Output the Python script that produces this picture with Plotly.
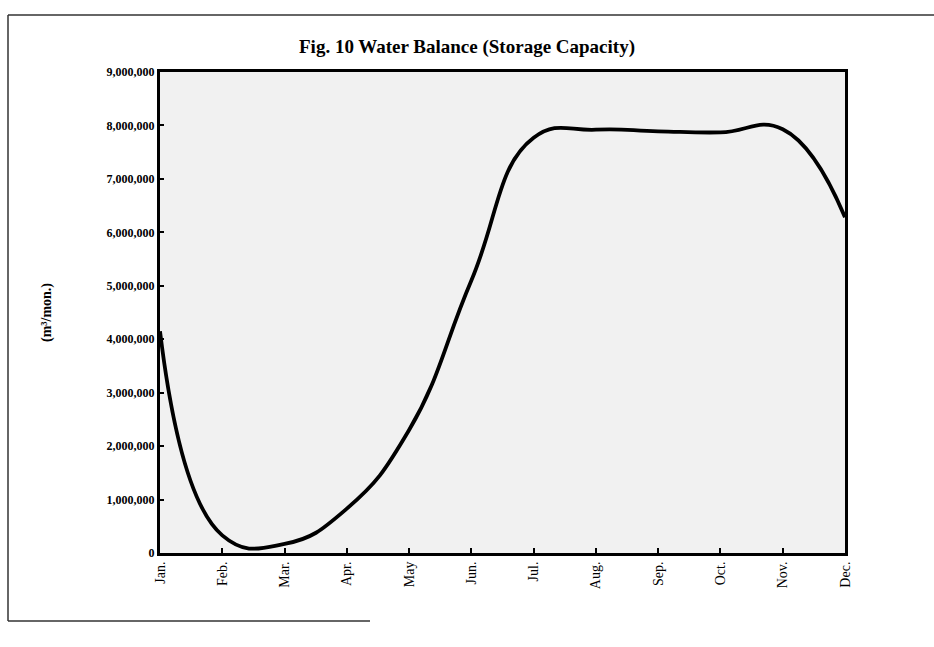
import plotly.graph_objects as go

# Monthly storage volume (m3/month)
months = ["Jan.", "Feb.", "Mar.", "Apr.", "May", "Jun.", "Jul.", "Aug.", "Sep.", "Oct.", "Nov.", "Dec."]
storage = [4150000, 330000, 170000, 830000, 2300000, 5100000, 7770000, 7920000, 7890000, 7870000, 7930000, 6280000]

y_ticks = [0, 1000000, 2000000, 3000000, 4000000, 5000000, 6000000, 7000000, 8000000, 9000000]

SERIF = "Liberation Serif, Times New Roman, serif"

fig = go.Figure()
fig.add_trace(go.Scatter(
    x=list(range(len(months))),
    y=storage,
    mode="lines",
    line=dict(color="black", width=3.8, shape="spline", smoothing=1.3),
    hoverinfo="skip",
    showlegend=False,
))

fig.update_layout(
    width=934,
    height=647,
    margin=dict(l=160, r=89, t=72, b=94),
    paper_bgcolor="white",
    plot_bgcolor="#f1f1f1",
    title=dict(
        text="<b>Fig. 10 Water Balance (Storage Capacity)</b>",
        x=0.5, xref="container", xanchor="center",
        y=1 - 46 / 647, yref="container", yanchor="middle",
        font=dict(family=SERIF, size=19, color="black"),
    ),
    xaxis=dict(
        range=[0, len(months) - 1],
        tickmode="array",
        tickvals=list(range(len(months))),
        ticktext=months,
        tickangle=-90,
        ticks="inside", ticklen=5, tickwidth=2, tickcolor="black",
        showgrid=False, zeroline=False,
        showline=True, linecolor="black", linewidth=3, mirror=True,
        tickfont=dict(family=SERIF, size=14, color="black"),
    ),
    yaxis=dict(
        range=[0, 9000000],
        tickmode="array",
        tickvals=y_ticks,
        ticktext=[f"<b>{v:,}</b>" for v in y_ticks],
        ticks="inside", ticklen=4, tickwidth=2, tickcolor="black",
        showgrid=False, zeroline=False,
        showline=True, linecolor="black", linewidth=3, mirror=True,
        tickfont=dict(family=SERIF, size=12, color="black"),
        title=dict(
            text="<b>(m³/mon.)</b>",
            font=dict(family=SERIF, size=14, color="black"),
            standoff=52,
        ),
    ),
)

# Outer frame lines of the figure page
frame = dict(type="line", xref="paper", yref="paper", line=dict(color="#333333", width=1.5))
x_left = (8 - 160) / 685
y_top = (553 - 15) / 481
y_bot = (553 - 621) / 481
fig.add_shape(x0=x_left, x1=x_left, y0=y_bot, y1=y_top, **frame)
fig.add_shape(x0=x_left, x1=(934 - 160) / 685, y0=y_top, y1=y_top, **frame)
fig.add_shape(x0=x_left, x1=(370 - 160) / 685, y0=y_bot, y1=y_bot, **frame)

fig.write_html("out.html")
